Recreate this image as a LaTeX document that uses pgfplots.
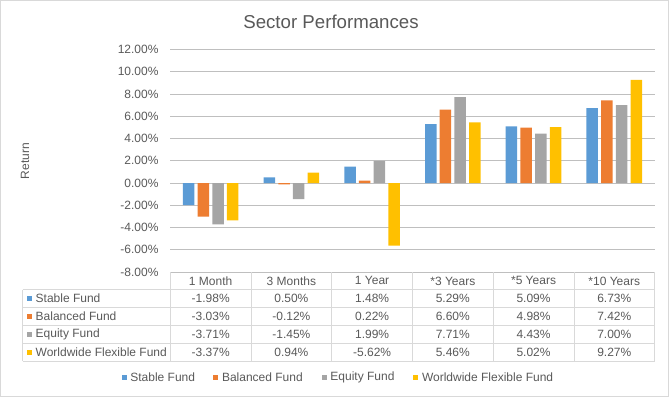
\documentclass[border=0pt]{standalone}
\usepackage{pgfplots}
\pgfplotsset{compat=1.18}
\usepackage{pgfplotstable}
\usepackage{fontspec}
\setmainfont{Liberation Sans}
\definecolor{cBlue}{HTML}{5B9BD5}
\definecolor{cOrange}{HTML}{ED7D31}
\definecolor{cGray}{HTML}{A5A5A5}
\definecolor{cYellow}{HTML}{FFC000}
\definecolor{txt}{HTML}{595959}
\definecolor{grid}{HTML}{D9D9D9}
\pgfplotstableread{
x stable balanced equity worldwide
0 -1.98 -3.03 -3.71 -3.37
1 0.50 -0.12 -1.45 0.94
2 1.48 0.22 1.99 -5.62
3 5.29 6.60 7.71 5.46
4 5.09 4.98 4.43 5.02
5 6.73 7.42 7.00 9.27
}\data
\newcommand{\ft}{\fontsize{12}{14}\selectfont}
\begin{document}
\begin{tikzpicture}
\begin{scope}[x=1pt,y=-1pt]
\path (0,0) rectangle (669,397);
\draw[grid] (0.5,0.5) rectangle (668.5,396.5);
\end{scope}
\begin{axis}[
  at={(170.3pt,-272pt)}, anchor=south west,
  scale only axis, width=484.3pt, height=222.5pt,
  xmin=-0.5, xmax=5.5, ymin=-8, ymax=12,
  ytick={-8,-6,...,12},
  xtick=\empty,
  ymajorgrids, grid style={grid, line width=0.75pt},
  axis line style={draw=none}, tick style={draw=none},
  /pgf/number format/assume math mode=true,
  yticklabel={\pgfmathprintnumber[fixed,fixed zerofill,precision=2]{\tick}\%},
  yticklabel style={font=\ft, text=txt, inner sep=0pt, anchor=east, xshift=-11.6pt},
  ybar=3.2pt, bar width=11.5pt,
  clip=false,
]
\addplot[fill=cBlue, draw=none] table[x=x,y=stable] {\data};
\addplot[fill=cOrange, draw=none] table[x=x,y=balanced] {\data};
\addplot[fill=cGray, draw=none] table[x=x,y=equity] {\data};
\addplot[fill=cYellow, draw=none] table[x=x,y=worldwide] {\data};
\end{axis}
\begin{scope}[x=1pt,y=-1pt]
% title
\node[font=\fontsize{18.67}{22}\selectfont, text=txt] at (331,21.7) {Sector Performances};
% y label
\node[font=\ft, text=txt, rotate=90] at (25,161) {Return};
% table grid
\foreach \yy in {289.5,307.3,325.3,343.3,361} \draw[grid, line width=0.75pt] (22.5,\yy) -- (654.6,\yy);
\draw[grid, line width=0.75pt] (22.5,289.5) -- (22.5,361);
\foreach \k in {0,...,6} \draw[grid, line width=0.75pt] ({170.3+80.72*\k},272) -- ({170.3+80.72*\k},361);
% header
\foreach \lab [count=\i from 0] in {1 Month,3 Months,1 Year,*3 Years,*5 Years,*10 Years}
  \node[font=\ft, text=txt] at ({170.3+80.72*(\i+0.5)},280.9) {\lab};
% row labels
\foreach \c/\lab/\yy in {cBlue/Stable Fund/298.4, cOrange/Balanced Fund/316.3, cGray/Equity Fund/334.3, cYellow/Worldwide Flexible Fund/352.2}{
  \fill[\c] (27.3,\yy-2.5) rectangle (32.3,\yy+2.5);
  \node[font=\ft, text=txt, anchor=west, inner sep=0pt] at (35.5,\yy) {\lab};
}
% values
\foreach \v [count=\i from 0] in {-1.98\%,0.50\%,1.48\%,5.29\%,5.09\%,6.73\%}
  \node[font=\ft, text=txt] at ({170.3+80.72*(\i+0.5)},298.4) {\v};
\foreach \v [count=\i from 0] in {-3.03\%,-0.12\%,0.22\%,6.60\%,4.98\%,7.42\%}
  \node[font=\ft, text=txt] at ({170.3+80.72*(\i+0.5)},316.3) {\v};
\foreach \v [count=\i from 0] in {-3.71\%,-1.45\%,1.99\%,7.71\%,4.43\%,7.00\%}
  \node[font=\ft, text=txt] at ({170.3+80.72*(\i+0.5)},334.3) {\v};
\foreach \v [count=\i from 0] in {-3.37\%,0.94\%,-5.62\%,5.46\%,5.02\%,9.27\%}
  \node[font=\ft, text=txt] at ({170.3+80.72*(\i+0.5)},352.2) {\v};
% legend
\foreach \c/\lab/\xx in {cBlue/Stable Fund/121.7, cOrange/Balanced Fund/213.3, cGray/Equity Fund/321.7, cYellow/Worldwide Flexible Fund/413.3}{
  \fill[\c] (\xx,377.7-2.5) rectangle (\xx+5,377.7+2.5);
  \node[font=\ft, text=txt, anchor=west, inner sep=0pt] at (\xx+8.5,377.7) {\lab};
}
\end{scope}
\end{tikzpicture}
\end{document}
